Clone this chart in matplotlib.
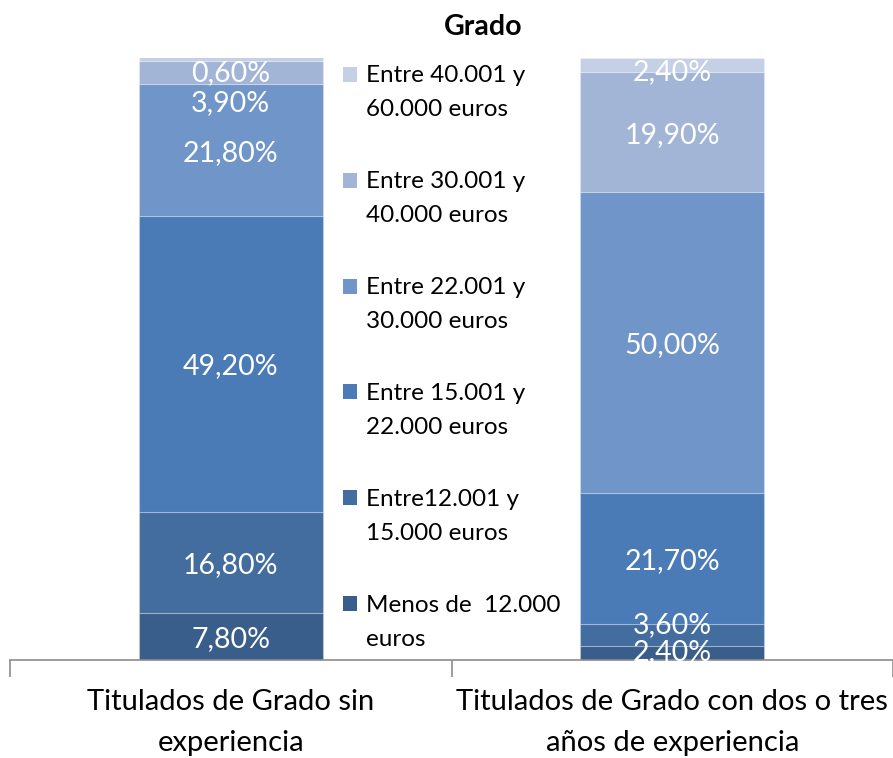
import matplotlib
matplotlib.use("Agg")
import matplotlib.pyplot as plt
from matplotlib.patches import Rectangle
import numpy as np

plt.rcParams['font.family'] = ['Lato', 'DejaVu Sans']

categories = ["Titulados de Grado sin\nexperiencia",
              "Titulados de Grado con dos o tres\naños de experiencia"]
series_names = ["Menos de  12.000\neuros",
                "Entre12.001 y\n15.000 euros",
                "Entre 15.001 y\n22.000 euros",
                "Entre 22.001 y\n30.000 euros",
                "Entre 30.001 y\n40.000 euros",
                "Entre 40.001 y\n60.000 euros"]
# values[series][category]
values = [
    [7.8, 2.4],
    [16.8, 3.6],
    [49.2, 21.7],
    [21.8, 50.0],
    [3.9, 19.9],
    [0.6, 2.4],
]
colors = ["#3a5e8b", "#436d9f", "#4a7bb7", "#7095c8", "#a3b5d7", "#c5cfe5"]
# label offsets in points (to avoid overlaps, as Excel does)
label_offsets = [
    [0, 2],
    [0, 8.5],
    [0, 0],
    [0, 0],
    [-20, 0],
    [-8.5, -3],
]

W, H = 893, 758
fig = plt.figure(figsize=(W/100, H/100), dpi=100)
ax = fig.add_axes([10/W, 1-660/H, 883/W, (660-58)/H])

x = np.arange(len(categories))
bottom = np.zeros(len(categories))
width = 0.417
for i, (name, vals) in enumerate(zip(series_names, values)):
    vals = np.array(vals)
    ax.bar(x, vals, width, bottom=bottom, color=colors[i],
           edgecolor=(1, 1, 1, 0.25), linewidth=0.8, label=name)
    for j in range(len(x)):
        yc = bottom[j] + vals[j] / 2
        ax.annotate(f"{vals[j]:.2f}%".replace(".", ","), (x[j], yc),
                    xytext=(0, label_offsets[i][j]), textcoords="offset points",
                    ha="center", va="center_baseline", color="white", fontsize=20.5)
    bottom += vals

ax.set_xlim(-0.5, 1.5)
ax.set_ylim(0, 100)
for s in ["top", "right", "left"]:
    ax.spines[s].set_visible(False)
ax.spines["bottom"].set_color("#8c8c8c")
ax.spines["bottom"].set_linewidth(1.2)
ax.set_yticks([])
ax.set_xticks([-0.5, 0.5, 1.5], minor=False)
ax.set_xticklabels([])
ax.tick_params(axis="x", which="major", length=12, color="#8c8c8c", width=1.2)
ax.set_xticks(x, minor=True)
ax.set_xticklabels(categories, minor=True, fontsize=21, linespacing=1.72)
ax.tick_params(axis="x", which="minor", length=0, pad=21)

fig.text(483/W, 1-27/H, "Grado", ha="center", va="center",
         fontsize=20.5, fontweight="bold")

# legend, top entry = last series
for k, (name, c) in enumerate(zip(series_names[::-1], colors[::-1])):
    yc = 74 + 105.8 * k
    lines = name.split("\n")
    fig.patches.append(Rectangle((343/W, 1-(yc+8)/H), 14/W, 15/H,
                                 transform=fig.transFigure, facecolor=c,
                                 edgecolor="none"))
    for m, line in enumerate(lines):
        fig.text(366/W, 1-(yc + 34*m)/H, line, ha="left",
                 va="center_baseline", fontsize=17.5, color="black")

fig.savefig("out.png", dpi=100)
